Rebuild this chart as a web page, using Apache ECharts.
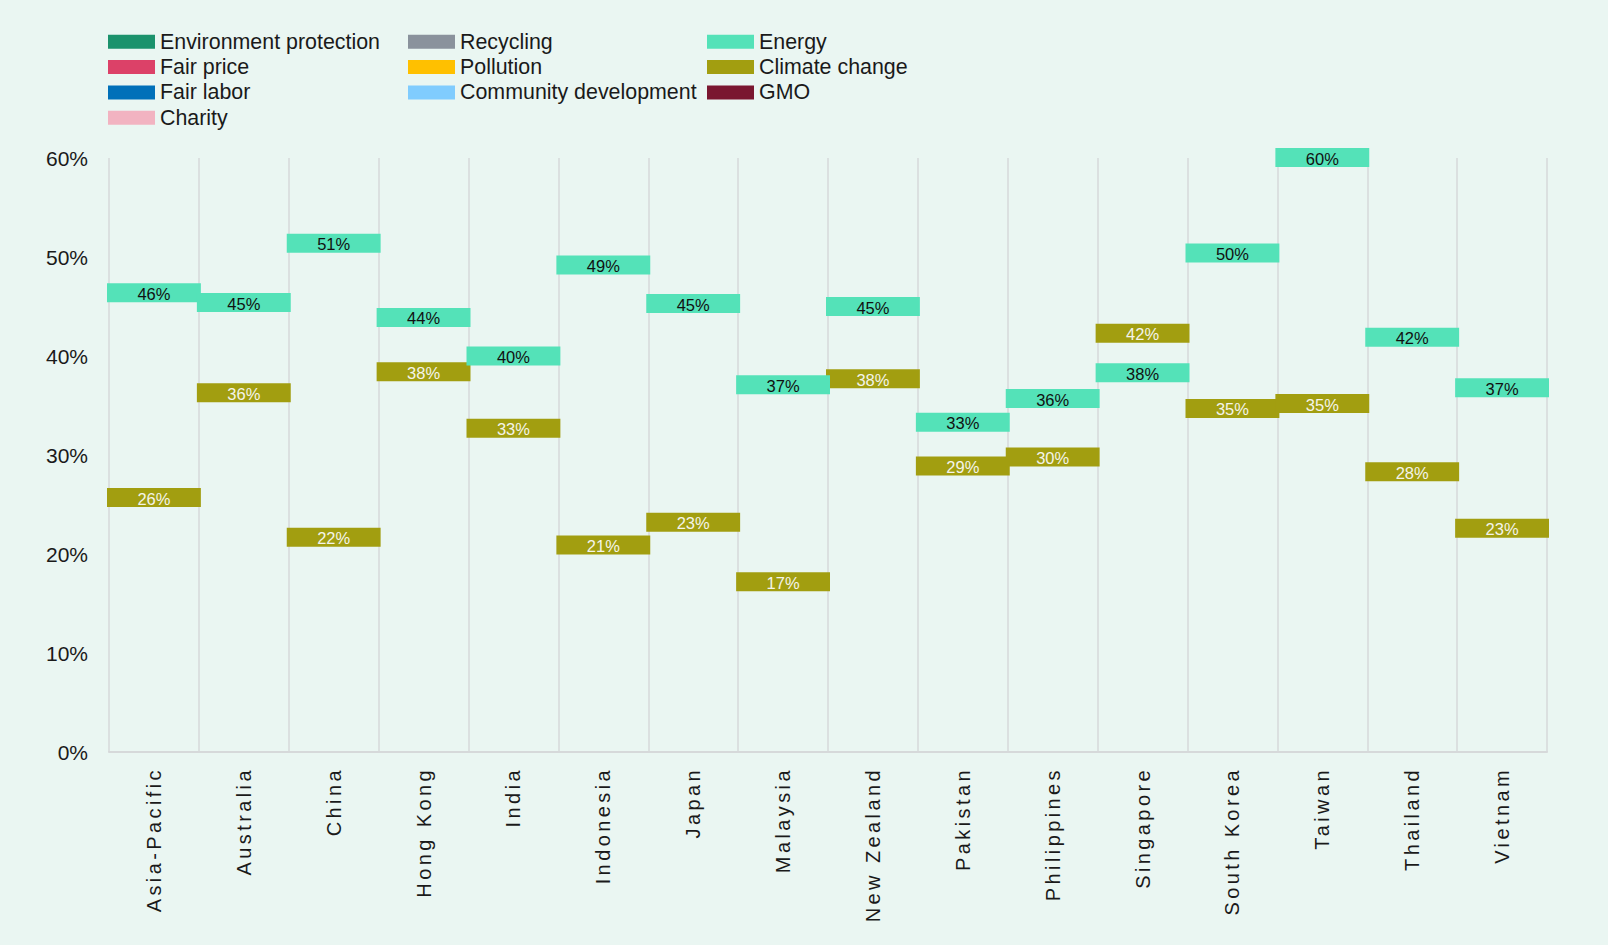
<!DOCTYPE html>
<html>
<head>
<meta charset="utf-8">
<script src="https://cdn.jsdelivr.net/npm/echarts@6/dist/echarts.min.js"></script>
<style>
html,body{margin:0;padding:0;background:#eaf6f2;}
#chart{width:1608px;height:945px;}
#chart text[style*="sans-serif"]{letter-spacing:3.4px;}
</style>
</head>
<body>
<div id="chart"></div>
<script>
const categories = ['Asia-Pacific','Australia','China','Hong Kong','India','Indonesia','Japan','Malaysia','New Zealand','Pakistan','Philippines','Singapore','South Korea','Taiwan','Thailand','Vietnam'];
const energy = [46.4, 45.4, 51.4, 43.9, 40.0, 49.2, 45.3, 37.1, 45.0, 33.3, 35.7, 38.3, 50.4, 60.05, 41.9, 36.8];
const climateChange = [25.7, 36.3, 21.7, 38.4, 32.7, 20.9, 23.2, 17.2, 37.7, 28.9, 29.8, 42.3, 34.7, 35.2, 28.3, 22.6];
const yTicks = [0, 10, 20, 30, 40, 50, 60];
const legendCol1 = ['Environment protection','Fair price','Fair labor','Charity'];
const legendCol2 = ['Recycling','Pollution','Community development'];
const legendCol3 = ['Energy','Climate change','GMO'];
const seriesColors = {
  'Environment protection':'#1b926c',
  'Fair price':'#dc4168',
  'Fair labor':'#0070b9',
  'Charity':'#f2b3c1',
  'Recycling':'#8a929c',
  'Pollution':'#ffc000',
  'Community development':'#80ccfe',
  'Energy':'#54e2b8',
  'Climate change':'#a29e10',
  'GMO':'#7a1730'
};

const FONT = 'Liberation Sans';
const chart = echarts.init(document.getElementById('chart'), null, {renderer:'svg'});

function makeRender(textColor){
  return function(params, api){
    const c = api.coord([api.value(0), api.value(1)]);
    const w = api.size([1, 0])[0] + 4;
    const h = 19;
    return {
      type:'rect',
      shape:{x:c[0]-w/2, y:c[1]-h/2, width:w, height:h},
      style:{fill:api.visual('color')},
      textContent:{style:{text:Math.round(api.value(1)) + '%', fill:textColor, fontSize:16.5, fontFamily:FONT}},
      textConfig:{position:'inside', offset:[0,1]}
    };
  };
}

const emptyNames = legendCol1.concat(['Recycling','Pollution','Community development','GMO']);
const series = [];
emptyNames.forEach(n => series.push({name:n, type:'bar', data:[], itemStyle:{color:seriesColors[n]}}));
series.push({
  name:'Energy', type:'custom', renderItem:makeRender('#111111'),
  itemStyle:{color:seriesColors['Energy']},
  data:energy.map((v,i)=>[i, v]), encode:{x:0, y:1}, z:3
});
series.push({
  name:'Climate change', type:'custom', renderItem:makeRender('#f4f4ea'),
  itemStyle:{color:seriesColors['Climate change']},
  data:climateChange.map((v,i)=>[i, v]), encode:{x:0, y:1}, z:2
});

const legendBase = {
  orient:'vertical', top:31.3, itemWidth:47, itemHeight:14, itemGap:4.3, padding:0,
  icon:'rect', selectedMode:false,
  textStyle:{fontSize:21.4, color:'#1a1a1a', fontFamily:FONT}
};

chart.setOption({
  backgroundColor:'#eaf6f2',
  textStyle:{fontFamily:FONT},
  animation:false,
  legend:[
    Object.assign({}, legendBase, {left:108, data:legendCol1}),
    Object.assign({}, legendBase, {left:408, data:legendCol2}),
    Object.assign({}, legendBase, {left:707, data:legendCol3})
  ],
  grid:{left:109, right:61, top:158, bottom:193, containLabel:false},
  xAxis:{
    type:'category', data:categories,
    axisTick:{show:false},
    axisLine:{lineStyle:{color:'#d6d9da', width:2}},
    splitLine:{show:true, lineStyle:{color:'#d6d9da', width:1.5}},
    axisLabel:{interval:0, rotate:90, fontSize:20, margin:15, color:'#1a1a1a', fontFamily:"'Liberation Sans', sans-serif"}
  },
  yAxis:{
    type:'value', min:yTicks[0], max:yTicks[yTicks.length-1], interval:10,
    axisLine:{show:false}, axisTick:{show:false}, splitLine:{show:false},
    axisLabel:{formatter:'{value}%', fontSize:21, color:'#1a1a1a', margin:21, fontFamily:FONT}
  },
  series:series
});
</script>
</body>
</html>
